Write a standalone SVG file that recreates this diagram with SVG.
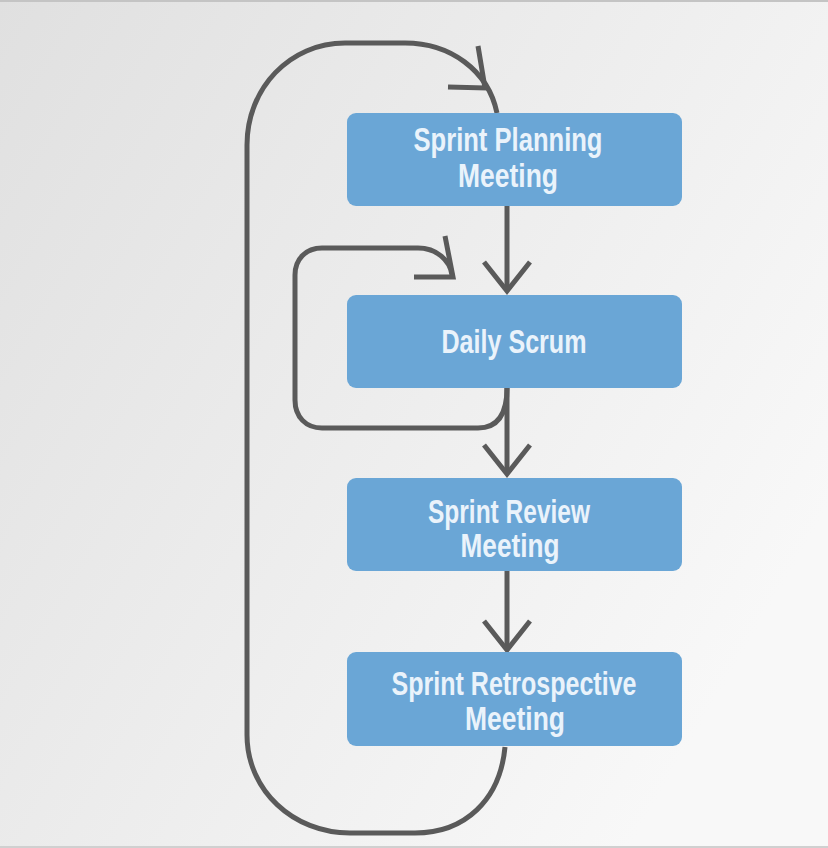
<svg xmlns="http://www.w3.org/2000/svg" width="828" height="848" viewBox="0 0 828 848">
  <defs>
    <linearGradient id="bg" x1="0" y1="0" x2="1" y2="0.6">
      <stop offset="0" stop-color="#e0e0e0"/>
      <stop offset="1" stop-color="#f8f8f8"/>
    </linearGradient>
    <style>
      .conn { fill: none; stroke: #5a5a5a; stroke-width: 5; stroke-linecap: butt; stroke-linejoin: miter; }
      .box { fill: #6aa6d6; }
      .lbl { font-family: "Liberation Sans", Arial, sans-serif; font-size: 33px; font-weight: bold; fill: #eaf3fb; text-anchor: middle; }
    </style>
  </defs>
  <rect x="0" y="0" width="828" height="848" fill="url(#bg)"/>
  <rect x="0" y="0" width="828" height="2" fill="#c4c4c4"/>
  <rect x="0" y="846" width="828" height="2" fill="#d0d0d0"/>

  <g id="connectors">
    <path class="conn" d="M 505 747 C 500 800, 465 833, 415 833 L 350 833 C 293 833, 247 790, 247 735 L 247 145 C 247 88, 290 43, 345 43 L 405 43 C 450 43, 488 70, 497 113"/>
    <polyline class="conn" points="448,87 485,88 478,46"/>
    <path class="conn" d="M 507 388 C 507 415, 497 428, 478 428 L 322 428 C 306 428, 295 417, 295 400 L 295 275 C 295 259, 306 248, 322 248 L 418 248 C 436 248, 450 260, 452 275"/>
    <polyline class="conn" points="414,277 453,277 445,236"/>
    <line class="conn" x1="507" y1="206" x2="507" y2="290"/>
    <polyline class="conn" points="484,262 507,291 530,262"/>
    <line class="conn" x1="507" y1="388" x2="507" y2="473"/>
    <polyline class="conn" points="484,445 507,474 530,445"/>
    <line class="conn" x1="507" y1="571" x2="507" y2="649"/>
    <polyline class="conn" points="484,621 507,650 530,621"/>
  </g>

  <g id="sprint-planning">
    <rect class="box" x="347" y="113" width="335" height="93" rx="9"/>
    <text class="lbl" x="508" y="151" textLength="189" lengthAdjust="spacingAndGlyphs">Sprint Planning</text>
    <text class="lbl" x="508" y="187" textLength="100" lengthAdjust="spacingAndGlyphs">Meeting</text>
  </g>
  <g id="daily-scrum">
    <rect class="box" x="347" y="295" width="335" height="93" rx="9"/>
    <text class="lbl" x="514" y="353" textLength="145" lengthAdjust="spacingAndGlyphs">Daily Scrum</text>
  </g>
  <g id="sprint-review">
    <rect class="box" x="347" y="478" width="335" height="93" rx="9"/>
    <text class="lbl" x="509" y="523" textLength="162" lengthAdjust="spacingAndGlyphs">Sprint Review</text>
    <text class="lbl" x="510" y="557" textLength="99" lengthAdjust="spacingAndGlyphs">Meeting</text>
  </g>
  <g id="sprint-retrospective">
    <rect class="box" x="347" y="652" width="335" height="94" rx="9"/>
    <text class="lbl" x="514" y="695" textLength="245" lengthAdjust="spacingAndGlyphs">Sprint Retrospective</text>
    <text class="lbl" x="515" y="730" textLength="100" lengthAdjust="spacingAndGlyphs">Meeting</text>
  </g>
</svg>
